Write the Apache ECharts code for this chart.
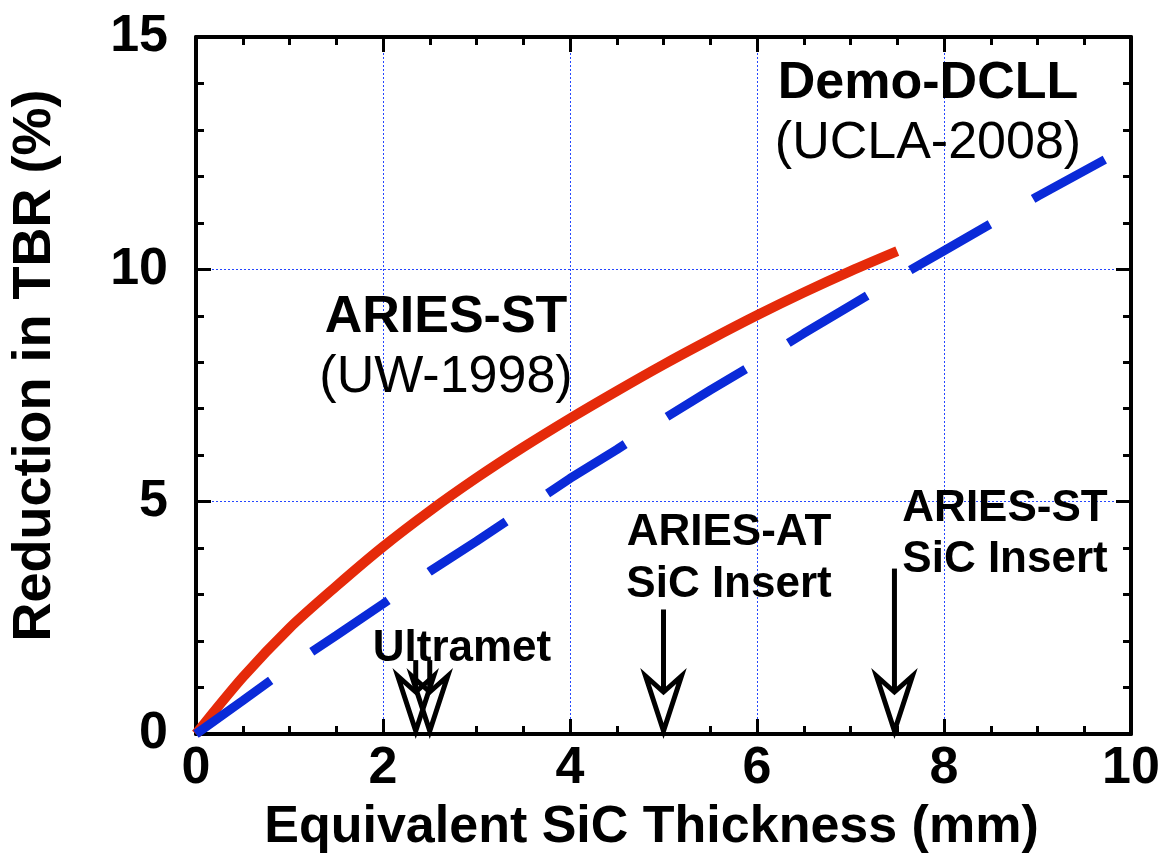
<!DOCTYPE html>
<html>
<head>
<meta charset="utf-8">
<script src="https://cdn.jsdelivr.net/npm/echarts@6/dist/echarts.min.js"></script>
<style>
  html, body { margin: 0; padding: 0; background: #fff; }
  #chart { width: 1165px; height: 859px; }
</style>
</head>
<body>
<div id="chart"></div>
<script>
// ARIES-ST (UW-1998) curve: [thickness mm, TBR reduction %]
const ariesStX = [0, 0.5, 1, 1.5, 2, 2.5, 3, 3.5, 4, 4.5, 5, 5.5, 6, 6.5, 7, 7.5];
const ariesStY = [0, 1.22, 2.28, 3.18, 4.03, 4.8, 5.51, 6.17, 6.79, 7.38, 7.95, 8.49, 9.01, 9.5, 9.96, 10.39];

// Demo-DCLL (UCLA-2008) curve
const dcllX = [0, 0.5, 1, 1.5, 2, 2.5, 3, 3.5, 4, 4.5, 5, 5.5, 6, 6.5, 7, 7.5, 8, 8.5, 9, 9.72];
const dcllY = [0, 0.72, 1.45, 2.12, 2.8, 3.5, 4.15, 4.82, 5.5, 6.12, 6.78, 7.4, 8.0, 8.62, 9.22, 9.82, 10.4, 10.98, 11.57, 12.36];

// arrows marking design thicknesses: x position and top of the stem (data units)
const arrowX = [2.35, 2.5, 5, 7.47];
const arrowTop = [1.59, 1.59, 2.68, 3.56];

const xTicks = [0, 2, 4, 6, 8, 10];
const yTicks = [0, 5, 10, 15];

const FONT = '"Liberation Sans", Arial, sans-serif';
const gridColor = '#2446ff';

const zip = (xs, ys) => xs.map((x, i) => [x, ys[i]]);

const chart = echarts.init(document.getElementById('chart'), null, { renderer: 'canvas' });

const axisBase = {
  type: 'value',
  axisLine: { show: true, onZero: false, lineStyle: { color: '#000', width: 4 } },
  axisTick: { show: true, inside: true, length: 15, lineStyle: { color: '#000', width: 3 } },
  minorTick: { show: true, length: 8, lineStyle: { color: '#000', width: 3 } },
};

const xAxisOpt = (pos, showLabel) => ({
  ...axisBase,
  position: pos,
  min: xTicks[0],
  max: xTicks[xTicks.length - 1],
  interval: 2,
  minorTick: { ...axisBase.minorTick, splitNumber: 4 },
  axisLabel: { show: showLabel, color: '#000', fontFamily: FONT, fontWeight: 'bold', fontSize: 52, margin: 9 },
  splitLine: { show: showLabel, lineStyle: { color: gridColor, width: 1, type: [2, 2] } },
});

const yAxisOpt = (pos, showLabel) => ({
  ...axisBase,
  position: pos,
  min: yTicks[0],
  max: yTicks[yTicks.length - 1],
  interval: 5,
  minorTick: { ...axisBase.minorTick, splitNumber: 5 },
  axisLabel: { show: showLabel, color: '#000', fontFamily: FONT, fontWeight: 'bold', fontSize: 52, margin: 28 },
  splitLine: { show: showLabel, lineStyle: { color: gridColor, width: 1, type: [2, 2] } },
});

// open arrow: vertical stem plus hollow arrowhead pointing down to the x axis
const renderArrow = (params, api) => {
  const top = api.coord([api.value(0), api.value(1)]);
  const tip = api.coord([api.value(0), 0]);
  const x = tip[0];
  const headLen = 58, halfW = 18, notch = 42;
  return {
    type: 'group',
    children: [
      {
        type: 'line',
        shape: { x1: x, y1: top[1], x2: x, y2: tip[1] - notch },
        style: { stroke: '#000', lineWidth: 5 },
      },
      {
        type: 'polygon',
        shape: {
          points: [
            [x - halfW, tip[1] - headLen],
            [x, tip[1] - 3],
            [x + halfW, tip[1] - headLen],
            [x, tip[1] - notch],
          ],
        },
        style: { fill: 'rgba(255,255,255,0)', stroke: '#000', lineWidth: 5, lineJoin: 'miter' },
      },
    ],
  };
};

const txt = (text, x, y, size, bold) => ({
  type: 'text',
  x: x,
  y: y,
  z: 10,
  style: {
    text: text,
    fill: '#000',
    font: (bold ? 'bold ' : '') + size + 'px ' + FONT,
    textAlign: 'center',
    textVerticalAlign: 'middle',
  },
});

chart.setOption({
  animation: false,
  backgroundColor: '#fff',
  grid: { left: 192, right: 34, top: 37, bottom: 122, containLabel: false },
  xAxis: [
    {
      ...xAxisOpt('bottom', true),
      name: 'Equivalent SiC Thickness (mm)',
      nameLocation: 'middle',
      nameGap: 68,
      nameTextStyle: { color: '#000', fontFamily: FONT, fontWeight: 'bold', fontSize: 52, padding: [0, 24, 0, 0] },
    },
    xAxisOpt('top', false),
  ],
  yAxis: [
    {
      ...yAxisOpt('left', true),
      name: 'Reduction in TBR (%)',
      nameLocation: 'middle',
      nameGap: 134,
      nameRotate: 90,
      nameTextStyle: { color: '#000', fontFamily: FONT, fontWeight: 'bold', fontSize: 54, padding: [0, 0, 0, 40] },
    },
    yAxisOpt('right', false),
  ],
  graphic: [
    txt('ARIES-ST', 446, 318, 52, true),
    txt('(UW-1998)', 446, 378, 52, false),
    txt('Demo-DCLL', 928, 84, 52, true),
    txt('(UCLA-2008)', 928, 144, 52, false),
    txt('ARIES-AT', 729, 533, 44, true),
    txt('SiC Insert', 729, 585, 44, true),
    txt('ARIES-ST', 1005, 509, 44, true),
    txt('SiC Insert', 1005, 560, 44, true),
    txt('Ultramet', 462, 649, 44, true),
  ],
  series: [
    {
      name: 'Demo-DCLL (UCLA-2008)',
      type: 'line',
      data: zip(dcllX, dcllY),
      showSymbol: false,
      lineStyle: { color: '#0a2ad8', width: 9, type: [92, 50], cap: 'butt' },
      z: 3,
    },
    {
      name: 'ARIES-ST (UW-1998)',
      type: 'line',
      data: zip(ariesStX, ariesStY),
      showSymbol: false,
      smooth: 0.3,
      lineStyle: { color: '#e52a0a', width: 10, cap: 'butt' },
      z: 2,
    },
    {
      name: 'arrows',
      type: 'custom',
      data: zip(arrowX, arrowTop),
      renderItem: renderArrow,
      clip: false,
      z: 5,
    },
  ],
});
</script>
</body>
</html>
